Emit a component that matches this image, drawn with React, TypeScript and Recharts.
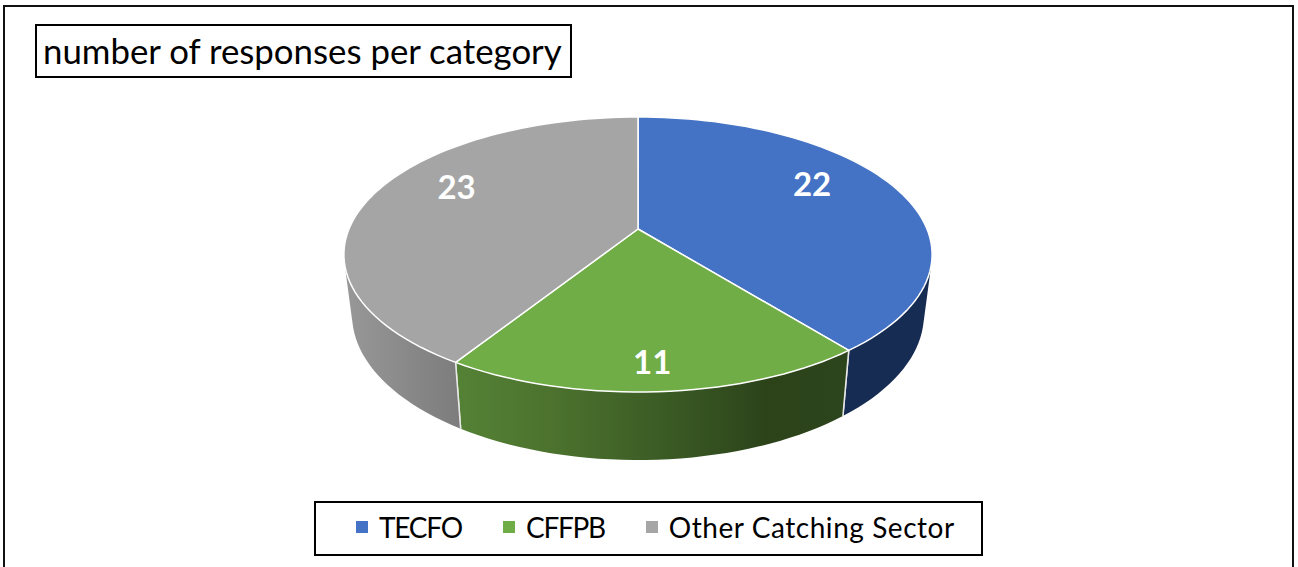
import { PieChart, Pie, Cell, Legend } from 'recharts'

const categories = ['TECFO', 'CFFPB', 'Other Catching Sector']
const responses = [22, 11, 23]
const colors = ['#4472C4', '#70AD47', '#A5A5A5']
const wallFills = ['#172C52', 'url(#wallGreen)', 'url(#wallGray)']

const data = categories.map((name, i) => ({ name, value: responses[i] }))

const FONT = 'Lato, "Open Sans", sans-serif'
const RADIUS = 289

// perspective of the tilted disc, top face and bottom face of the wall
const TOP = { k: 1, c: 0.1855, a: -90.3, b: 0 }
const BOTTOM = { k: 281 / 289, c: 0.1855, a: -87, b: 58.7 }
// label spots are Excel's own, not quite on the radius
const labelNudge = [
  { dx: -34, dy: -13 },
  { dx: -1, dy: 7 },
  { dx: 32, dy: -15 },
]
// Lato's capitals run wider than the original font's, its lowercase narrower
const legendSpacing = [-1.2, -1.3, 0.55]

type Face = typeof TOP
type Pt = { x: number; y: number }

function project(cx: number, cy: number, clockDeg: number, r: number, face: Face) {
  const rad = (clockDeg * Math.PI) / 180
  const u = r * Math.sin(rad)
  const v = r * Math.cos(rad)
  const d = 1 + face.c * v
  return {
    x: cx + (RADIUS * face.k * u) / d,
    y: (cy + face.b + face.a * v) / d,
  }
}

function arcPoints(cx: number, cy: number, from: number, to: number, face: Face) {
  const steps = Math.max(2, Math.ceil(Math.abs(to - from) / 2))
  const pts: Pt[] = []
  for (let i = 0; i <= steps; i++) {
    pts.push(project(cx, cy, from + ((to - from) * i) / steps, 1, face))
  }
  return pts
}

const toPath = (pts: Pt[]) =>
  pts.map((p, i) => `${i === 0 ? 'M' : 'L'}${p.x.toFixed(2)},${p.y.toFixed(2)}`).join(' ')

// all quads wound the same way, so one nonzero fill has no seams or holes
function quadPath(quad: Pt[]) {
  let area = 0
  quad.forEach((p, i) => {
    const q = quad[(i + 1) % quad.length]
    area += p.x * q.y - q.x * p.y
  })
  return toPath(area < 0 ? [...quad].reverse() : quad) + ' Z'
}

function Slice(props: any) {
  const { cx, cy, startAngle, endAngle, index } = props
  const from = 90 - startAngle
  const to = 90 - endAngle
  const topArc = arcPoints(cx, cy, from, to, TOP)
  const bottomArc = arcPoints(cx, cy, from, to, BOTTOM)
  const face = `M${cx},${cy} ` + toPath(topArc).replace('M', 'L') + ' Z'
  const last = topArc.length - 1
  const wall = topArc
    .slice(0, last)
    .map((p, i) => quadPath([p, topArc[i + 1], bottomArc[i + 1], bottomArc[i]]))
    .join(' ')
  return (
    <g>
      <path d={wall} fill={wallFills[index]} />
      <path d={toPath([topArc[0], bottomArc[0]])} stroke="#E8E8E8" strokeWidth={1.5} fill="none" />
      <path d={toPath([topArc[last], bottomArc[last]])} stroke="#E8E8E8" strokeWidth={1.5} fill="none" />
      <path d={face} fill={colors[index]} stroke="#fff" strokeWidth={1.5} strokeLinejoin="round" />
    </g>
  )
}

function renderLabel(props: any) {
  const { cx, cy, midAngle, index, value } = props
  const p = project(cx, cy, 90 - midAngle, 0.8, TOP)
  const nudge = labelNudge[index]
  return (
    <text
      x={p.x + nudge.dx}
      y={p.y + nudge.dy}
      fill="#fff"
      fontFamily={FONT}
      fontWeight={700}
      fontSize={33}
      textAnchor="middle"
      dominantBaseline="central"
    >
      {value}
    </text>
  )
}

function LegendBox() {
  return (
    <div
      style={{
        boxSizing: 'border-box',
        width: 669,
        height: 55,
        border: '2px solid #000',
        background: '#fff',
        display: 'flex',
        alignItems: 'center',
        paddingLeft: 40,
        paddingBottom: 3,
        fontFamily: FONT,
        fontSize: 28,
        color: '#000',
      }}
    >
      {categories.map((name, i) => (
        <span key={name} style={{ display: 'flex', alignItems: 'center', marginRight: 41 }}>
          <span style={{ width: 12, height: 12, background: colors[i], marginRight: 11 }} />
          <span style={{ letterSpacing: legendSpacing[i], whiteSpace: 'nowrap' }}>{name}</span>
        </span>
      ))}
    </div>
  )
}

export default function App() {
  return (
    <div style={{ position: 'absolute', left: 0, top: 0, width: 1298, height: 567, background: '#fff', overflow: 'hidden' }}>
      <div style={{ position: 'absolute', left: 3, top: 5, width: 1287, height: 580, border: '2px solid #111' }} />
      <div
        style={{
          position: 'absolute',
          left: 35,
          top: 24,
          width: 537,
          height: 54,
          boxSizing: 'border-box',
          border: '2px solid #000',
          fontFamily: FONT,
          fontSize: 34.8,
          lineHeight: '50px',
          paddingLeft: 6,
          whiteSpace: 'nowrap',
          color: '#000',
        }}
      >
        number of responses per category
      </div>
      <div style={{ position: 'absolute', left: 0, top: 0 }}>
        <PieChart width={1298} height={567} margin={{ top: 0, right: 0, bottom: 0, left: 0 }}>
          <defs>
            <linearGradient id="wallGreen" gradientUnits="userSpaceOnUse" x1={456} x2={844} y1={0} y2={0}>
              <stop offset="0" stopColor="#548235" />
              <stop offset="0.25" stopColor="#4C722E" />
              <stop offset="0.55" stopColor="#3A5A24" />
              <stop offset="0.8" stopColor="#2C431A" />
              <stop offset="1" stopColor="#2D451C" />
            </linearGradient>
            <linearGradient id="wallGray" gradientUnits="userSpaceOnUse" x1={345} x2={461} y1={0} y2={0}>
              <stop offset="0" stopColor="#989898" />
              <stop offset="1" stopColor="#7C7C7C" />
            </linearGradient>
          </defs>
          <Pie
            data={data}
            dataKey="value"
            nameKey="name"
            cx={638}
            cy={229}
            outerRadius={RADIUS}
            startAngle={90}
            endAngle={-270}
            shape={Slice}
            label={renderLabel}
            labelLine={false}
            isAnimationActive={false}
          >
            {data.map((d, i) => (
              <Cell key={d.name} fill={colors[i]} />
            ))}
          </Pie>
          <Legend
            content={<LegendBox />}
            layout="horizontal"
            wrapperStyle={{ position: 'absolute', left: 314, top: 501, width: 669, height: 55, bottom: 'auto' }}
          />
        </PieChart>
      </div>
    </div>
  )
}
